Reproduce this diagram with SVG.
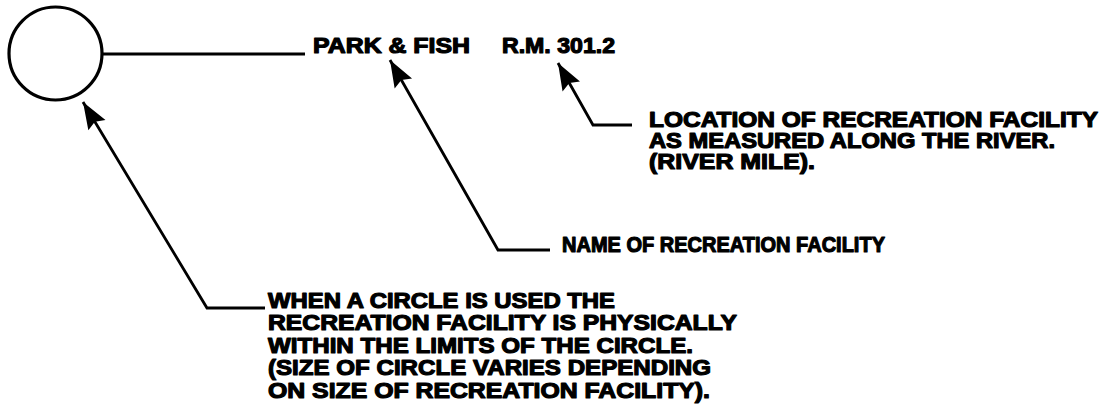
<svg xmlns="http://www.w3.org/2000/svg" width="1107" height="415" viewBox="0 0 1107 415">
<style>
.t{font-family:"Liberation Sans",Arial,sans-serif;font-weight:bold;font-size:22px;fill:#000;stroke:#000;stroke-width:1.2px;stroke-linejoin:round;}
.ln{fill:none;stroke:#000;stroke-width:2.8;stroke-linejoin:miter;}
</style>
<defs>
<marker id="ah" markerUnits="userSpaceOnUse" viewBox="-28 -12 30 24" refX="0" refY="0" markerWidth="30" markerHeight="24" orient="auto">
<path d="M0,0 L-27,-10 L-23,0 L-27,10 Z" fill="#000"/>
</marker>
</defs>
<rect width="1107" height="415" fill="#fff"/>
<g id="circle-node">
<circle cx="55.5" cy="53.5" r="46.5" fill="none" stroke="#000" stroke-width="3.2"/>
</g>
<g id="facility-name">
<text class="t" x="313" y="53" textLength="157" lengthAdjust="spacingAndGlyphs">PARK &amp; FISH</text>
</g>
<g id="river-mile">
<text class="t" x="502" y="53" textLength="113" lengthAdjust="spacingAndGlyphs">R.M. 301.2</text>
</g>
<g id="location-note">
<text class="t" x="649" y="127" textLength="449" lengthAdjust="spacingAndGlyphs">LOCATION OF RECREATION FACILITY</text>
<text class="t" x="649" y="148" textLength="406" lengthAdjust="spacingAndGlyphs">AS MEASURED ALONG THE RIVER.</text>
<text class="t" x="649" y="169" textLength="166" lengthAdjust="spacingAndGlyphs">(RIVER MILE).</text>
</g>
<g id="name-note">
<text class="t" x="562" y="252" textLength="323" lengthAdjust="spacingAndGlyphs">NAME OF RECREATION FACILITY</text>
</g>
<g id="circle-note">
<text class="t" x="268" y="308" textLength="347" lengthAdjust="spacingAndGlyphs">WHEN A CIRCLE IS USED THE</text>
<text class="t" x="268" y="330" textLength="469" lengthAdjust="spacingAndGlyphs">RECREATION FACILITY IS PHYSICALLY</text>
<text class="t" x="268" y="353" textLength="425" lengthAdjust="spacingAndGlyphs">WITHIN THE LIMITS OF THE CIRCLE.</text>
<text class="t" x="268" y="375" textLength="443" lengthAdjust="spacingAndGlyphs">(SIZE OF CIRCLE VARIES DEPENDING</text>
<text class="t" x="268" y="398" textLength="442" lengthAdjust="spacingAndGlyphs">ON SIZE OF RECREATION FACILITY).</text>
</g>
<g id="connectors">
<path class="ln" d="M103,54 L305,54" stroke-width="3.2"/>
<path class="ln" d="M265,308 L207,308 L83,102" marker-end="url(#ah)"/>
<path class="ln" d="M550,250 L498,250 L390,60" marker-end="url(#ah)"/>
<path class="ln" d="M632,125 L593,125 L558,63" marker-end="url(#ah)"/>
</g>
</svg>
